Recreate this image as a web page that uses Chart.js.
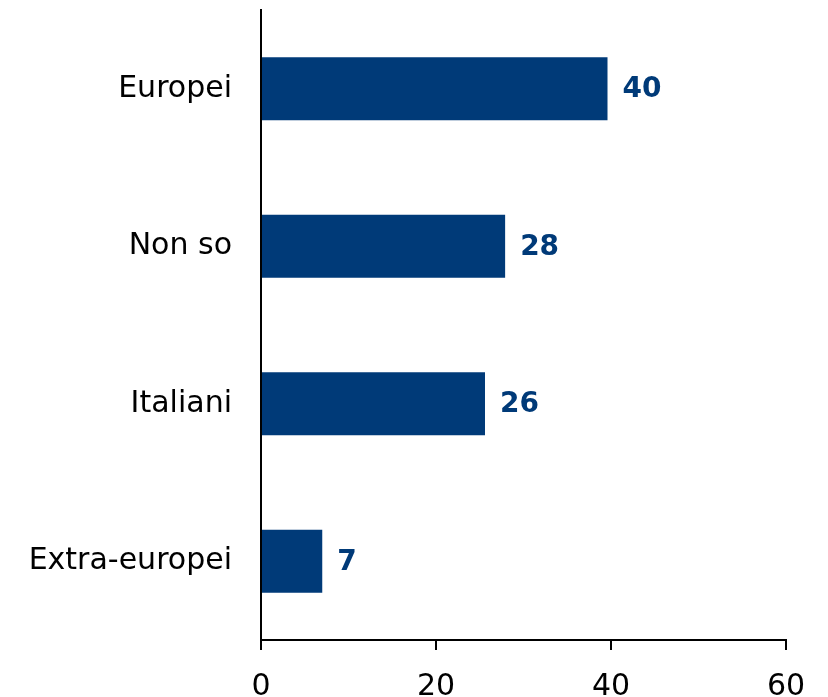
<!DOCTYPE html>
<html>
<head>
<meta charset="utf-8">
<script src="https://cdn.jsdelivr.net/npm/chart.js@4"></script>
<style>
  html, body { margin: 0; padding: 0; background: #fff; }
  #wrap { width: 828px; height: 697px; position: relative; }
</style>
</head>
<body>
<div id="wrap"><canvas id="chart"></canvas></div>
<script>
// data
const categories = ['Europei', 'Non so', 'Italiani', 'Extra-europei'];
const values = [39.6, 27.9, 25.6, 7.0];
const valueLabels = ['40', '28', '26', '7'];
const xTicks = [0, 20, 40, 60];

const BLUE = '#003A78';
const FONT = '"DejaVu Sans", sans-serif';

// value labels at the end of each bar
const barLabels = {
  id: 'barLabels',
  afterDatasetsDraw(chart) {
    const ctx = chart.ctx;
    const meta = chart.getDatasetMeta(0);
    ctx.save();
    ctx.fillStyle = BLUE;
    ctx.font = 'bold 28px ' + FONT;
    ctx.textAlign = 'left';
    ctx.textBaseline = 'middle';
    meta.data.forEach((bar, i) => {
      ctx.fillText(valueLabels[i], bar.x + 15, bar.y + 1);
    });
    ctx.restore();
  }
};

const ctx = document.getElementById('chart').getContext('2d');
new Chart(ctx, {
  type: 'bar',
  data: {
    labels: categories,
    datasets: [{
      data: values,
      backgroundColor: BLUE,
      borderWidth: 0,
      barPercentage: 0.8,
      categoryPercentage: 0.5
    }]
  },
  options: {
    indexAxis: 'y',
    responsive: true,
    maintainAspectRatio: false,
    animation: false,
    layout: { padding: { top: 10, right: 42, left: 0, bottom: 0 } },
    plugins: {
      legend: { display: false },
      tooltip: { enabled: false }
    },
    scales: {
      x: {
        min: 0,
        max: 60,
        afterBuildTicks(scale) {
          scale.ticks = xTicks.map(v => ({ value: v }));
        },
        afterFit(scale) {
          scale.height = 57;
          scale.paddingLeft = 0;
          scale.paddingRight = 0;
        },
        grid: {
          drawOnChartArea: false,
          drawTicks: true,
          tickLength: 10,
          color: '#000',
          lineWidth: 2
        },
        border: { display: true, color: '#000', width: 2 },
        ticks: {
          color: '#000',
          font: { family: FONT, size: 30 },
          padding: 19,
          maxRotation: 0
        }
      },
      y: {
        afterFit(scale) {
          scale.width = 261;
          scale.paddingTop = 0;
          scale.paddingBottom = 0;
        },
        grid: { display: false, drawTicks: false },
        border: { display: true, color: '#000', width: 2 },
        ticks: {
          color: '#000',
          font: { family: FONT, size: 30 },
          padding: 29
        }
      }
    }
  },
  plugins: [barLabels]
});
</script>
</body>
</html>
